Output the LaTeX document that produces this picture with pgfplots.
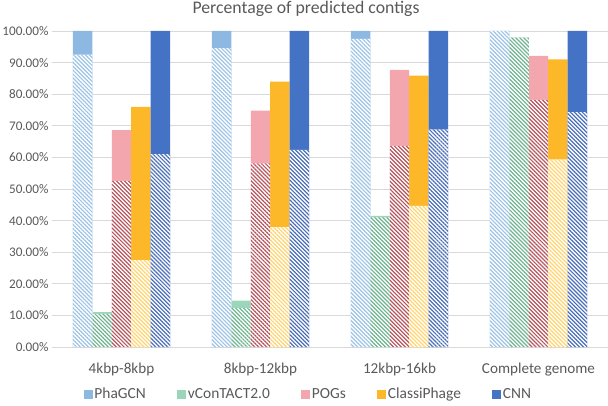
\documentclass[border=0pt]{standalone}
\usepackage{pgfplots}
\pgfplotsset{compat=1.18}
\usepackage{fontspec}
\setmainfont{Carlito}
\usetikzlibrary{patterns.meta}
\definecolor{textgray}{HTML}{595959}
\definecolor{gridgray}{HTML}{D9D9D9}
\definecolor{sPha}{HTML}{8DB8E2}
\definecolor{hPha}{HTML}{9DC3E6}
\definecolor{sVcon}{HTML}{9CD6BA}
\definecolor{hVcon}{HTML}{6DB38E}
\definecolor{sPog}{HTML}{F4A6AE}
\definecolor{hPog}{HTML}{B5545C}
\definecolor{sCls}{HTML}{FDB82A}
\definecolor{hCls}{HTML}{FFD46E}
\definecolor{sCnn}{HTML}{4472C4}
\definecolor{hCnn}{HTML}{4A6FB8}
\tikzset{hatch/.style={fill=white, draw=none, postaction={pattern={Lines[angle=-45,distance=2.8bp,line width=1.2bp]}, pattern color=#1}}}
\begin{document}
\begin{tikzpicture}[x=1bp,y=1bp]
\useasboundingbox (0,0) rectangle (608,405);
\begin{axis}[
  at={(52bp,58bp)}, anchor=south west, scale only axis,
  width=556bp, height=316bp,
  xmin=-0.5, xmax=3.5, ymin=0, ymax=100,
  xtick={0,1,2,3},
  xticklabels={4kbp-8kbp,8kbp-12kbp,12kbp-16kb,Complete genome},
  ytick={0,10,20,30,40,50,60,70,80,90,100},
  yticklabels={0.00\%,10.00\%,20.00\%,30.00\%,40.00\%,50.00\%,60.00\%,70.00\%,80.00\%,90.00\%,100.00\%},
  axis line style={draw=none},
  major tick length=0pt,
  ymajorgrids, grid style={color=gridgray, line width=0.8bp},
  tick label style={text=textgray},
  xticklabel style={font=\fontsize{15.2}{15.2}\selectfont, yshift=-12bp},
  yticklabel style={font=\fontsize{13.2}{13.2}\selectfont},
  legend style={at={(0.461,-0.149)}, anchor=center, draw=none, fill=none,
    legend columns=5, font=\fontsize{15.5}{15.5}\selectfont,
    nodes={font=\fontsize{15.5}{15.5}\selectfont, text=textgray, inner xsep=1.5bp},
    /tikz/every even column/.append style={column sep=30bp}},
  legend image code/.code={\fill[#1] (0bp,-4.5bp) rectangle (9bp,4.5bp);},
]
% solid (totals)
\addplot[ybar, bar width=0.14, bar shift=-0.28, fill=sPha, draw=none] coordinates {(0,100) (1,100) (2,100) (3,100)};
\addplot[ybar, bar width=0.14, bar shift=-0.14, fill=sVcon, draw=none] coordinates {(0,11.0) (1,14.7) (2,41.5) (3,97.9)};
\addplot[ybar, bar width=0.14, bar shift=0, fill=sPog, draw=none] coordinates {(0,68.6) (1,74.8) (2,87.7) (3,92.1)};
\addplot[ybar, bar width=0.14, bar shift=0.14, fill=sCls, draw=none] coordinates {(0,76.0) (1,84.0) (2,85.9) (3,91.0)};
\addplot[ybar, bar width=0.14, bar shift=0.28, fill=sCnn, draw=none] coordinates {(0,100) (1,100) (2,100) (3,100)};
\legend{PhaGCN,vConTACT2.0,POGs,ClassiPhage,CNN}
% hatched parts
\addplot[ybar, bar width=0.14, bar shift=-0.28, hatch=hPha, forget plot] coordinates {(0,92.5) (1,94.6) (2,97.5) (3,100)};
\addplot[ybar, bar width=0.14, bar shift=-0.14, hatch=hVcon, forget plot] coordinates {(0,10.5) (1,12.3) (2,41.0) (3,97.9)};
\addplot[ybar, bar width=0.14, bar shift=0, hatch=hPog, forget plot] coordinates {(0,52.5) (1,58.1) (2,63.6) (3,78.2)};
\addplot[ybar, bar width=0.14, bar shift=0.14, hatch=hCls, forget plot] coordinates {(0,27.5) (1,37.9) (2,44.7) (3,59.4)};
\addplot[ybar, bar width=0.14, bar shift=0.28, hatch=hCnn, forget plot] coordinates {(0,61.0) (1,62.4) (2,68.9) (3,74.3)};
\end{axis}
\node[anchor=base, inner sep=0pt, font=\fontsize{17.8}{17.8}\selectfont, text=textgray] at (306,391.5) {Percentage of predicted contigs};
\end{tikzpicture}
\end{document}
